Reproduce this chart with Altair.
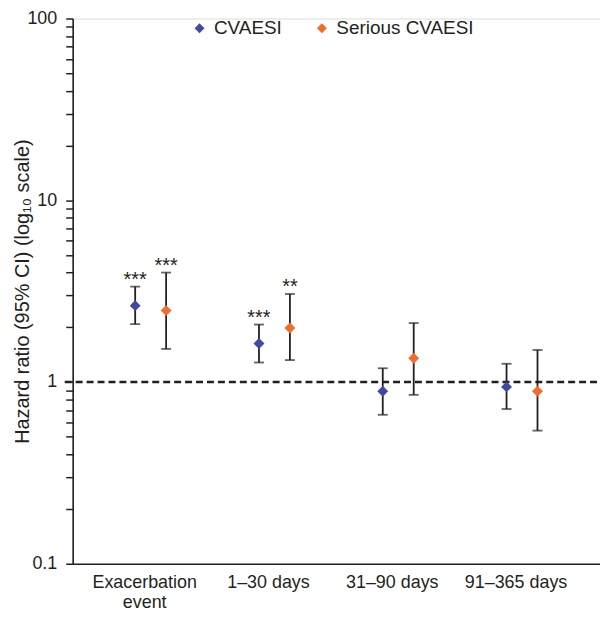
import altair as alt
import pandas as pd

categories = ["Exacerbation event", "1–30 days", "31–90 days", "91–365 days"]
series = ["CVAESI", "Serious CVAESI"]
colors = ["#414B9E", "#F26C2B"]

hr_cvaesi = [2.63, 1.63, 0.89, 0.94]
lo_cvaesi = [2.08, 1.28, 0.66, 0.71]
hi_cvaesi = [3.35, 2.07, 1.19, 1.26]
sig_cvaesi = ["***", "***", "", ""]

hr_serious = [2.47, 1.98, 1.35, 0.89]
lo_serious = [1.52, 1.32, 0.85, 0.54]
hi_serious = [4.00, 3.05, 2.11, 1.50]
sig_serious = ["***", "**", "", ""]

y_ticks = [0.1, 0.2, 0.3, 0.4, 0.5, 0.6, 0.7, 0.8, 0.9,
           1, 2, 3, 4, 5, 6, 7, 8, 9,
           10, 20, 30, 40, 50, 60, 70, 80, 90, 100]
reference_value = 1

rows = []
for i, c in enumerate(categories):
    rows.append({"category": c, "series": series[0], "hr": hr_cvaesi[i],
                 "lo": lo_cvaesi[i], "hi": hi_cvaesi[i], "sig": sig_cvaesi[i]})
    rows.append({"category": c, "series": series[1], "hr": hr_serious[i],
                 "lo": lo_serious[i], "hi": hi_serious[i], "sig": sig_serious[i]})
df = pd.DataFrame(rows)

W, H = 530, 548
FONT = "Liberation Sans"
INK = "#231F20"

x_enc = alt.X("category:N", sort=categories,
              scale=alt.Scale(paddingInner=0, paddingOuter=0.13),
              axis=alt.Axis(title=None, ticks=False, labelAngle=0,
                            labelFontSize=18, labelColor=INK, labelFont=FONT,
                            labelPadding=10, labelOffset=-6, labelLineHeight=20,
                            labelExpr="datum.label == 'Exacerbation event' ? ['Exacerbation', 'event'] : datum.label",
                            domainColor=INK, domainWidth=1.6, grid=False))
xo_enc = alt.XOffset("series:N", sort=series,
                     scale=alt.Scale(paddingInner=0, paddingOuter=1))
y_scale = alt.Scale(type="log", domain=[0.1, 100], nice=False)

base = alt.Chart(df)

whisker = base.mark_rule(color=INK, strokeWidth=1.8).encode(
    x=x_enc, xOffset=xo_enc,
    y=alt.Y("lo:Q", scale=y_scale,
            axis=alt.Axis(values=y_ticks, format="~g",
                          labelExpr="(datum.value == 0.1 || datum.value == 1 || datum.value == 10 || datum.value == 100) ? datum.label : ''",
                          title="Hazard ratio (95% CI) (log₁₀ scale)",
                          titleFontSize=20, titleFontWeight="normal", titleColor=INK,
                          titleFont=FONT, titleX=-44, titleY=H / 2,
                          titleAngle=270, titleAlign="center",
                          titleBaseline="alphabetic",
                          labelFontSize=18, labelColor=INK, labelFont=FONT,
                          tickSize=7, tickColor=INK, tickWidth=1.5,
                          labelPadding=9, domainColor=INK, domainWidth=1.6,
                          grid=False)),
    y2="hi:Q",
)
cap_lo = base.mark_tick(color=INK, size=10, thickness=1.8, orient="horizontal").encode(
    x=x_enc, xOffset=xo_enc, y=alt.Y("lo:Q", scale=y_scale))
cap_hi = base.mark_tick(color=INK, size=10, thickness=1.8, orient="horizontal").encode(
    x=x_enc, xOffset=xo_enc, y=alt.Y("hi:Q", scale=y_scale))

points = base.mark_point(shape="diamond", filled=True, size=120, opacity=1).encode(
    x=x_enc, xOffset=xo_enc, y=alt.Y("hr:Q", scale=y_scale),
    color=alt.Color("series:N", sort=series,
                    scale=alt.Scale(domain=series, range=colors),
                    legend=alt.Legend(title=None, orient="none", direction="horizontal",
                                      legendX=118, legendY=0,
                                      symbolType="diamond", symbolSize=100,
                                      symbolStrokeWidth=0, labelFontSize=19,
                                      labelFont=FONT, labelColor=INK,
                                      labelOffset=5, columnPadding=30)),
)

stars = base.mark_text(fontSize=20, font=FONT, color=INK, baseline="alphabetic",
                       dy=-1).encode(
    x=x_enc, xOffset=xo_enc, y=alt.Y("hi:Q", scale=y_scale), text="sig:N")

ref_df = pd.DataFrame({"ref": [reference_value]})
ref_line = alt.Chart(ref_df).mark_rule(color=INK, strokeWidth=2.4,
                                       strokeDash=[7, 4]).encode(
    y=alt.Y("ref:Q", scale=y_scale), x=alt.value(-8), x2=alt.value(W - 2))

chart = alt.layer(ref_line, whisker, cap_lo, cap_hi, points, stars).properties(
    width=W, height=H,
    autosize=alt.AutoSizeParams(type="none"),
    padding={"left": 65, "top": 9, "right": 0, "bottom": 56},
).configure_view(stroke=None).configure(background="white")

chart.save("out.html", embed_options={"renderer": "svg", "actions": False})
